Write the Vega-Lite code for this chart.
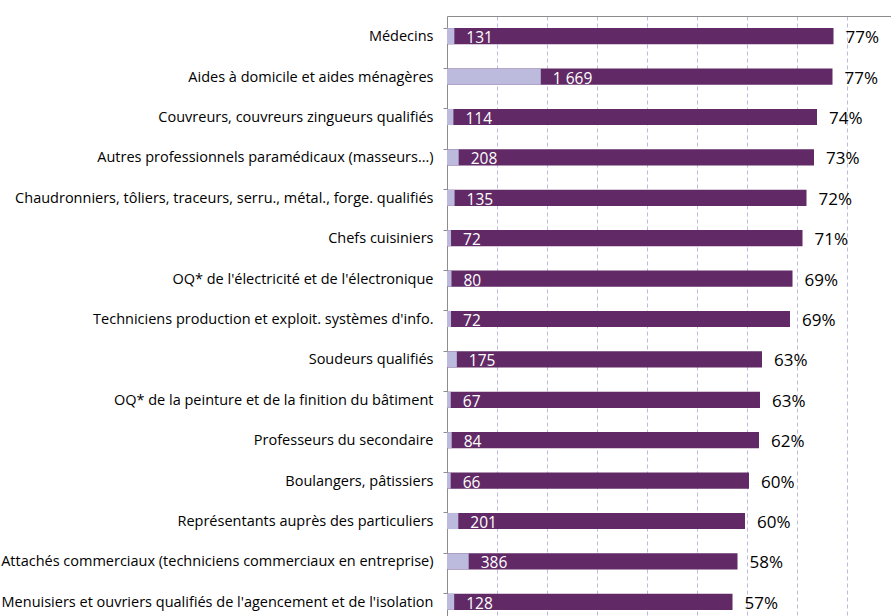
{
  "$schema": "https://vega.github.io/schema/vega-lite/v6.json",
  "width": 444,
  "height": 600,
  "autosize": {"type": "none"},
  "padding": {"left": 447, "top": 16, "right": 0, "bottom": 0},
  "background": "white",
  "config": {
    "view": {"stroke": null},
    "font": "Open Sans"
  },
  "data": {
    "values": [
      {"metier": "Médecins", "pct": 0.773, "n": 131, "nText": "131"},
      {"metier": "Aides à domicile et aides ménagères", "pct": 0.771, "n": 1669, "nText": "1 669"},
      {"metier": "Couvreurs, couvreurs zingueurs qualifiés", "pct": 0.740, "n": 114, "nText": "114"},
      {"metier": "Autres professionnels paramédicaux (masseurs…)", "pct": 0.734, "n": 208, "nText": "208"},
      {"metier": "Chaudronniers, tôliers, traceurs, serru., métal., forge. qualifiés", "pct": 0.719, "n": 135, "nText": "135"},
      {"metier": "Chefs cuisiniers", "pct": 0.711, "n": 72, "nText": "72"},
      {"metier": "OQ* de l'électricité et de l'électronique", "pct": 0.691, "n": 80, "nText": "80"},
      {"metier": "Techniciens production et exploit. systèmes d'info.", "pct": 0.686, "n": 72, "nText": "72"},
      {"metier": "Soudeurs qualifiés", "pct": 0.630, "n": 175, "nText": "175"},
      {"metier": "OQ* de la peinture et de la finition du bâtiment", "pct": 0.626, "n": 67, "nText": "67"},
      {"metier": "Professeurs du secondaire", "pct": 0.624, "n": 84, "nText": "84"},
      {"metier": "Boulangers, pâtissiers", "pct": 0.604, "n": 66, "nText": "66"},
      {"metier": "Représentants auprès des particuliers", "pct": 0.596, "n": 201, "nText": "201"},
      {"metier": "Attachés commerciaux (techniciens commerciaux en entreprise)", "pct": 0.581, "n": 386, "nText": "386"},
      {"metier": "Menuisiers et ouvriers qualifiés de l'agencement et de l'isolation", "pct": 0.571, "n": 128, "nText": "128"}
    ]
  },
  "encoding": {
    "y": {
      "field": "metier",
      "type": "nominal",
      "sort": null,
      "scale": {"range": [0, 606], "paddingInner": 0.6, "paddingOuter": 0.3},
      "axis": {
        "title": null,
        "bandPosition": 0,
        "tickSize": 4,
        "tickColor": "#8c8c8c",
        "domainColor": "#8c8c8c",
        "labelFontSize": 14.5,
        "labelColor": "#000000",
        "labelPadding": 10,
        "labelOffset": 1,
        "labelLimit": 450,
        "labelFont": "Open Sans",
        "grid": false
      }
    }
  },
  "layer": [
    {
      "mark": {"type": "bar", "color": "#612a66"},
      "encoding": {
        "x": {
          "field": "pct",
          "type": "quantitative",
          "scale": {"domain": [0, 0.888], "nice": false, "zero": true},
          "axis": {
            "orient": "top",
            "title": null,
            "labels": false,
            "ticks": false,
            "domain": true,
            "domainColor": "#8c8c8c",
            "grid": true,
            "gridColor": "#bdbbdd",
            "gridDash": [4, 3],
            "gridWidth": 1,
            "values": [0.1, 0.2, 0.3, 0.4, 0.5, 0.6, 0.7, 0.8]
          }
        }
      }
    },
    {
      "mark": {"type": "bar", "color": "#bdbbdd"},
      "encoding": {
        "x": {
          "field": "n",
          "type": "quantitative",
          "scale": {"domain": [0, 7900], "nice": false},
          "axis": null
        }
      }
    },
    {
      "mark": {"type": "text", "align": "left", "baseline": "middle", "dx": 12, "dy": 2, "color": "white", "fontSize": 15.5, "font": "Open Sans"},
      "encoding": {
        "x": {
          "field": "n",
          "type": "quantitative",
          "scale": {"domain": [0, 7900], "nice": false},
          "axis": null
        },
        "text": {"field": "nText"}
      }
    },
    {
      "mark": {"type": "text", "align": "left", "baseline": "middle", "dx": 12, "dy": 2, "color": "black", "fontSize": 17, "font": "Open Sans"},
      "encoding": {
        "x": {
          "field": "pct",
          "type": "quantitative",
          "scale": {"domain": [0, 0.888], "nice": false},
          "axis": null
        },
        "text": {"field": "pct", "format": ".0%"}
      }
    }
  ],
  "resolve": {"scale": {"x": "independent"}, "axis": {"x": "independent"}}
}
